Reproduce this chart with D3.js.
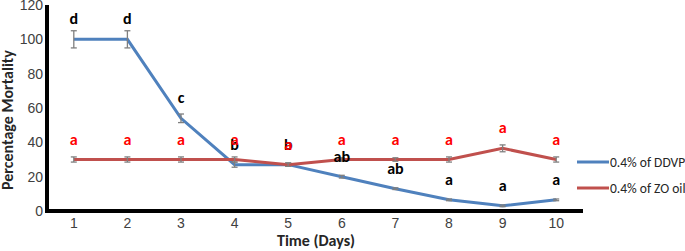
<!DOCTYPE html>
<html>
<head>
<meta charset="utf-8">
<script src="https://cdn.jsdelivr.net/npm/d3@7"></script>
<style>
  body { margin: 0; background: #fff; }
  svg { display: block; font-family: Calibri, Carlito, "Open Sans", "Liberation Sans", sans-serif; }
</style>
</head>
<body>
<div id="chart"></div>
<script>
// data
const days = ["1", "2", "3", "4", "5", "6", "7", "8", "9", "10"];
const ddvp = [100, 100, 54, 27, 27, 20, 13, 6.5, 3, 6.5];
const ddvpErr = [5, 5, 2.5, 1.5, 1, 0.8, 0.5, 0.5, 0.5, 0.5];
const ddvpLetters = ["d", "d", "c", "b", "b", "ab", "ab", "a", "a", "a"];
const zo = [30, 30, 30, 30, 27, 30, 30, 30, 36.5, 30];
const zoErr = [1.5, 1.5, 1.5, 1.5, 1, 1, 1, 1.5, 2, 1.5];
const zoLetters = ["a", "a", "a", "a", "a", "a", "a", "a", "a", "a"];
const yTicks = [0, 20, 40, 60, 80, 100, 120];
const seriesNames = ["0.4% of DDVP", "0.4% of ZO oil"];
const colors = ["#4f81bd", "#c0504d"];

const width = 685, height = 251;
const margin = { top: 5, right: 102, bottom: 40, left: 47 };
const innerWidth = width - margin.left - margin.right,
    innerHeight = height - margin.top - margin.bottom;

const svg = d3.select("#chart").append("svg")
    .attr("width", width)
    .attr("height", height);

const g = svg.append("g")
    .attr("transform", "translate(" + margin.left + "," + margin.top + ")");

const xScale = d3.scaleBand().domain(days).range([0, innerWidth]).padding(0);
const yScale = d3.scaleLinear().domain([0, 120]).range([innerHeight, 0]);
const X = (d, i) => xScale(days[i]) + xScale.bandwidth() / 2;

// axes
const yAxis = g.append("g")
    .call(d3.axisLeft(yScale).tickValues(yTicks).tickSize(0).tickPadding(4));
yAxis.select(".domain").remove();
yAxis.selectAll("text").attr("fill", "#404040").style("font-size", "14px");

const xAxis = g.append("g")
    .attr("transform", "translate(0," + innerHeight + ")")
    .call(d3.axisBottom(xScale).tickSize(0).tickPadding(7));
xAxis.select(".domain").remove();
xAxis.selectAll("text").attr("fill", "#404040").style("font-size", "14px");

g.append("line")
    .attr("x1", 0).attr("x2", 0)
    .attr("y1", 0).attr("y2", innerHeight + 2)
    .attr("stroke", "#000").attr("stroke-width", 4);
g.append("line")
    .attr("x1", -2).attr("x2", innerWidth)
    .attr("y1", innerHeight).attr("y2", innerHeight)
    .attr("stroke", "#000").attr("stroke-width", 4);

// titles
g.append("text")
    .attr("transform", `translate(${innerWidth / 2 + 1}, ${innerHeight + 35})`)
    .attr("text-anchor", "middle")
    .style("font-size", "16px")
    .style("font-weight", "bold")
    .attr("fill", "#262626")
    .text("Time (Days)");

g.append("text")
    .attr("transform", `translate(-34, ${innerHeight / 2 + 12}) rotate(-90)`)
    .attr("text-anchor", "middle")
    .style("font-size", "16px")
    .style("font-weight", "bold")
    .attr("fill", "#262626")
    .text("Percentage Mortality");

// series
const series = [
    { values: ddvp, err: ddvpErr, letters: ddvpLetters, labelColor: "#000" },
    { values: zo, err: zoErr, letters: zoLetters, labelColor: "#ff0000" }
];

const line = d3.line()
    .x(X)
    .y(d => yScale(d));

series.forEach(function(s, k) {
    g.append("path")
        .attr("fill", "none")
        .attr("stroke", colors[k])
        .attr("stroke-width", 3)
        .attr("d", line(s.values));

    const eb = g.append("g").attr("stroke", "#7f7f7f").attr("stroke-width", 1.3);
    s.values.forEach(function(v, i) {
        const cx = X(v, i);
        const y0 = yScale(v - s.err[i]), y1 = yScale(v + s.err[i]);
        eb.append("line").attr("x1", cx).attr("x2", cx).attr("y1", y0).attr("y2", y1);
        eb.append("line").attr("x1", cx - 3).attr("x2", cx + 3).attr("y1", y0).attr("y2", y0);
        eb.append("line").attr("x1", cx - 3).attr("x2", cx + 3).attr("y1", y1).attr("y2", y1);
    });
});

// significance letters (drawn after lines)
series.forEach(function(s, k) {
    s.letters.forEach(function(t, i) {
        g.append("text")
            .attr("x", X(s.values[i], i))
            .attr("y", yScale(s.values[i]) - 15)
            .attr("text-anchor", "middle")
            .style("font-size", "16px")
            .style("font-weight", "bold")
            .attr("fill", s.labelColor)
            .text(t);
    });
});

// legend
const legend = g.append("g")
    .attr("transform", "translate(" + (innerWidth - 6) + "," + 157 + ")");

seriesNames.forEach(function(d, i) {
    let legendRow = legend.append("g")
        .attr("transform", "translate(0, " + (i * 26) + ")");

    legendRow.append("line")
        .attr("x1", 0).attr("x2", 32)
        .attr("stroke", colors[i])
        .attr("stroke-width", 3);

    legendRow.append("text")
        .attr("x", 33)
        .attr("y", 5)
        .style("font-size", "13.5px")
        .attr("fill", "#262626")
        .text(d);
});
</script>
</body>
</html>
